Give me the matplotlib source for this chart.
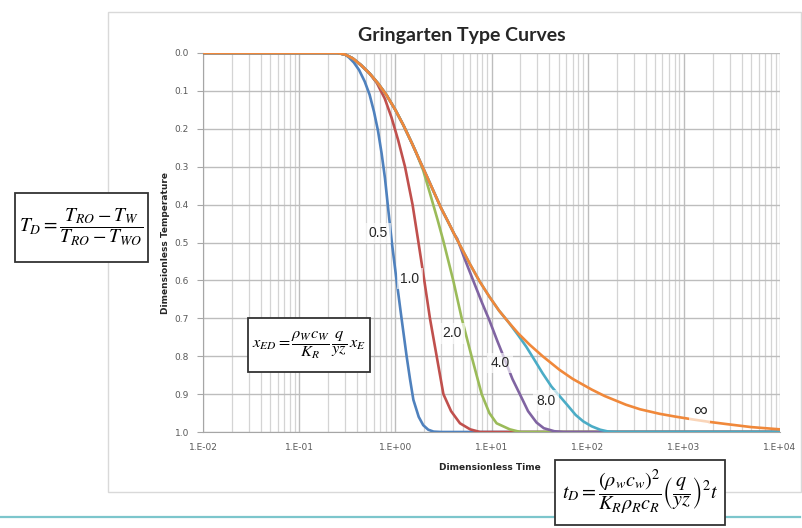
"""
Gringarten type curves: dimensionless temperature vs dimensionless time
for several x_ED values, with the defining equations as boxed text.
"""
import matplotlib
matplotlib.use("Agg")
import matplotlib.pyplot as plt
from matplotlib.patches import Rectangle
from matplotlib.lines import Line2D

# =========================================================
# DATA
# =========================================================
# x_ED = infinity envelope; the finite curves follow it until they break away
orange_t = [0.01, 0.25, 0.30, 0.36, 0.44, 0.54, 0.66, 0.81, 1.0, 1.21, 1.5, 1.8,
            2.15, 2.55, 3.0, 3.5, 4.1, 4.7, 6.0, 7.5, 9.5, 12, 15, 19, 25, 34,
            51, 70, 110, 150, 250, 350, 560, 800, 1250, 1800, 2760, 5000, 1e4]
orange_T = [0, 0, 0.004, 0.014, 0.032, 0.054, 0.08, 0.111, 0.15, 0.19, 0.24, 0.285,
            0.328, 0.37, 0.41, 0.443, 0.478, 0.507, 0.558, 0.602, 0.643, 0.68, 0.71,
            0.74, 0.77, 0.80, 0.836, 0.86, 0.888, 0.905, 0.928, 0.94, 0.952, 0.959,
            0.967, 0.973, 0.979, 0.987, 0.993]

# own part of each finite curve (after leaving the envelope)
blue_t = [0.33, 0.37, 0.42, 0.48, 0.54, 0.60, 0.66, 0.72, 0.78, 0.85, 0.92, 1.03,
          1.16, 1.31, 1.42, 1.54, 1.75, 1.95, 2.2, 2.5, 3.0, 1e4]
blue_T = [0.012, 0.025, 0.045, 0.075, 0.11, 0.155, 0.205, 0.265, 0.33, 0.42, 0.5, 0.6,
          0.7, 0.8, 0.86, 0.915, 0.96, 0.982, 0.994, 0.999, 1.0, 1.0]

red_t = [0.645, 0.776, 0.912, 1.07, 1.26, 1.51, 1.74, 2.0, 2.29, 2.69, 3.16, 3.8,
         4.7, 6.0, 7.6, 1e4]
red_T = [0.08, 0.12, 0.17, 0.23, 0.30, 0.40, 0.50, 0.60, 0.70, 0.80, 0.90, 0.945,
         0.977, 0.993, 1.0, 1.0]

green_t = [1.66, 1.95, 2.29, 2.75, 3.15, 4.0, 4.9, 6.2, 7.9, 9.5, 11.3, 15.5, 20, 1e4]
green_T = [0.265, 0.31, 0.37, 0.44, 0.495, 0.6, 0.7, 0.8, 0.9, 0.95, 0.977, 0.993, 1.0, 1.0]

purple_t = [4.4, 5.2, 6.0, 6.8, 8.0, 9.5, 11.5, 13.8, 16.5, 19.7, 24, 29.4, 35, 45, 56, 1e4]
purple_T = [0.49, 0.54, 0.58, 0.615, 0.66, 0.705, 0.76, 0.81, 0.86, 0.9, 0.945, 0.975,
            0.99, 0.998, 1.0, 1.0]

teal_t = [19, 23, 28, 34, 42, 51, 62, 75, 90, 110, 135, 165, 200, 1e4]
teal_T = [0.745, 0.775, 0.81, 0.845, 0.88, 0.905, 0.93, 0.955, 0.972, 0.985, 0.994,
          0.999, 1.0, 1.0]

curve_labels = ["0.5", "1.0", "2.0", "4.0", "8.0", "\u221e"]
label_t = [0.66, 1.42, 3.87, 12.2, 36.8, 1466]
label_T = [0.475, 0.596, 0.739, 0.818, 0.918, 0.945]
label_size = [10, 10, 10, 10, 10, 14]

x_ticks = [1e-2, 1e-1, 1e0, 1e1, 1e2, 1e3, 1e4]
x_ticklabels = ["1.E-02", "1.E-01", "1.E+00", "1.E+01", "1.E+02", "1.E+03", "1.E+04"]
y_ticks = [0.0, 0.1, 0.2, 0.3, 0.4, 0.5, 0.6, 0.7, 0.8, 0.9, 1.0]

COLORS = ["#4F81BD", "#C0504D", "#9BBB59", "#8064A2", "#4BACC6", "#F0883A"]


def with_envelope(t, T):
    """Prepend the envelope points that lie before the curve breaks away."""
    pre = [(a, b) for a, b in zip(orange_t, orange_T) if a < t[0]]
    return [p[0] for p in pre] + list(t), [p[1] for p in pre] + list(T)


# =========================================================
# PLOT
# =========================================================
plt.rcParams["mathtext.fontset"] = "stix"

W, H = 802, 528
fig = plt.figure(figsize=(W / 100, H / 100), dpi=100)

def fx(px):
    return px / W

def fy(py):
    return 1 - py / H

ax = fig.add_axes([fx(203), fy(432), fx(780) - fx(203), fy(53) - fy(432)])

series = [with_envelope(blue_t, blue_T), with_envelope(red_t, red_T),
          with_envelope(green_t, green_T), with_envelope(purple_t, purple_T),
          with_envelope(teal_t, teal_T), (orange_t, orange_T)]
for (t, T), c in zip(series, COLORS):
    ax.plot(t, T, color=c, linewidth=1.9, solid_joinstyle="round", zorder=3)

for lab, t, T, sz in zip(curve_labels, label_t, label_T, label_size):
    ax.text(t, T, lab, ha="center", va="center", fontsize=sz, color="#262626",
            family=["Liberation Sans", "DejaVu Sans"], zorder=4,
            bbox=dict(facecolor="white", alpha=0.65, edgecolor="none", pad=2.5))

ax.set_xscale("log")
ax.set_xlim(1e-2, 1e4)
ax.set_ylim(1.0, 0.0)
ax.set_xticks(x_ticks)
ax.set_xticklabels(x_ticklabels)
ax.set_yticks(y_ticks)
ax.set_yticklabels([f"{v:.1f}" for v in y_ticks])
ax.tick_params(axis="x", which="both", length=0, pad=8, labelsize=6.5, labelcolor="#595959")
ax.tick_params(axis="y", length=4, color="#a6a6a6", pad=6, labelsize=6.5, labelcolor="#595959")
ax.minorticks_on()
ax.tick_params(axis="y", which="minor", left=False)
ax.tick_params(axis="x", which="minor", bottom=False)
ax.grid(True, which="major", color="#bdbdbd", linewidth=1.0, zorder=0)
ax.grid(True, axis="x", which="minor", color="#d4d4d4", linewidth=0.9, zorder=0)
for s in ["top", "right"]:
    ax.spines[s].set_visible(False)
for s in ["left", "bottom"]:
    ax.spines[s].set_color("#a6a6a6")

fig.text(fx(462), fy(36), "Gringarten Type Curves", ha="center", va="center",
         fontsize=14, fontweight="bold", family="Lato", color="#262626")
fig.text(fx(490), fy(468), "Dimensionless Time", ha="center", va="center",
         fontsize=6.5, fontweight="bold", color="#262626")
fig.text(fx(166), fy(243), "Dimensionless Temperature", ha="center", va="center",
         rotation=90, fontsize=6.5, fontweight="bold", color="#262626")

# chart frame and slide separator line
fig.patches.append(Rectangle((fx(108), fy(492)), fx(801) - fx(108), fy(12) - fy(492),
                             transform=fig.transFigure, fill=False,
                             edgecolor="#d9d9d9", linewidth=1.0, zorder=0))
fig.lines.append(Line2D([0, fx(800)], [fy(517), fy(517)], transform=fig.transFigure,
                        color="#7cc6cc", linewidth=1.6, zorder=0))


# equation boxes: (left, top, right, bottom) in pixels, then the formula
def eq_box(x0, y0, x1, y1, tex, size):
    fig.patches.append(Rectangle((fx(x0), fy(y1)), fx(x1) - fx(x0), fy(y0) - fy(y1),
                                 transform=fig.transFigure, facecolor="white",
                                 edgecolor="#333333", linewidth=1.3, zorder=4))
    fig.text(fx((x0 + x1) / 2), fy((y0 + y1) / 2), tex, ha="center", va="center",
             fontsize=size, zorder=5)


eq_box(15, 193, 148, 262, r"$T_D=\dfrac{T_{RO}-T_W}{T_{RO}-T_{WO}}$", 14)
eq_box(248, 318, 370, 372, r"$x_{ED}=\dfrac{\rho_W c_W}{K_R}\,\dfrac{q}{yz}\,x_E$", 11.8)
eq_box(555, 460, 725, 525,
       r"$t_D=\dfrac{(\rho_w c_w)^2}{K_R\rho_R c_R}\left(\dfrac{q}{yz}\right)^2 t$", 14.5)

fig.savefig("out.png", dpi=100)
